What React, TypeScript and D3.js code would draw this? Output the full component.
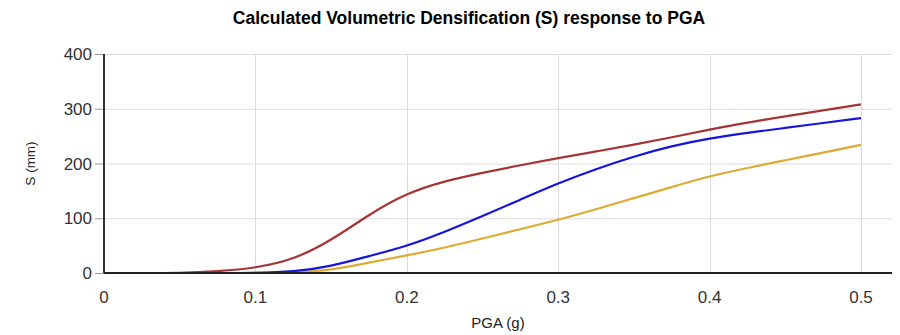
import { useEffect, useRef } from 'react'
import * as d3 from 'd3'

const pga = [0, 0.025, 0.05, 0.075, 0.1, 0.125, 0.15, 0.175, 0.2, 0.225, 0.25, 0.275, 0.3, 0.325, 0.35, 0.375, 0.4, 0.425, 0.45, 0.475, 0.5]
const redS = [0, 0, 0, 3, 9, 24, 59, 107, 146, 168, 183, 197, 210, 222, 234, 248, 262, 275, 286, 297, 308]
const blueS = [0, 0, 0, 0, 0, 2, 12, 31, 49, 75, 104, 134, 164, 190, 213, 232, 246, 256, 265, 274, 283]
const yellowS = [0, 0, 0, 0, 0, 1, 5, 19, 32, 46, 63, 80, 97, 116, 137, 157, 177, 192, 206, 220, 234]
const xTicks = [0, 0.1, 0.2, 0.3, 0.4, 0.5]
const yTicks = [0, 100, 200, 300, 400]

const series = [
  { name: 'yellow', color: '#dcab33', values: yellowS },
  { name: 'blue', color: '#1515e0', values: blueS },
  { name: 'red', color: '#a53434', values: redS },
]

const App = () => {
  const ref = useRef<SVGSVGElement>(null)

  useEffect(() => {
    const svg = d3.select(ref.current)
    svg.selectAll('*').remove()
    const width = 900
    const height = 335
    const margin = { top: 54, right: 8, bottom: 62, left: 104 }
    const font = 'Liberation Sans, Arial, sans-serif'

    const x = d3.scaleLinear().domain([0, 0.5]).range([104, 861])
    const y = d3.scaleLinear().domain([0, 400]).range([height - margin.bottom, margin.top])

    // title
    svg
      .append('text')
      .attr('x', 469)
      .attr('y', 24)
      .attr('text-anchor', 'middle')
      .attr('font-family', font)
      .attr('font-size', 17.5)
      .attr('font-weight', 'bold')
      .text('Calculated Volumetric Densification (S) response to PGA')

    // grid
    const grid = svg.append('g').attr('stroke', '#dcdcdc').attr('stroke-width', 1)
    grid
      .selectAll('.hg')
      .data(yTicks.filter((d) => d > 0))
      .join('line')
      .attr('x1', margin.left)
      .attr('x2', width - margin.right)
      .attr('y1', (d) => y(d) + 0.5)
      .attr('y2', (d) => y(d) + 0.5)
    grid
      .selectAll('.vg')
      .data(xTicks.filter((d) => d > 0))
      .join('line')
      .attr('x1', (d) => Math.round(x(d)) + 0.5)
      .attr('x2', (d) => Math.round(x(d)) + 0.5)
      .attr('y1', y(400))
      .attr('y2', y(0))

    // y ticks + labels
    const yAxis = svg.append('g')
    yAxis
      .selectAll('line')
      .data(yTicks)
      .join('line')
      .attr('x1', margin.left - 9)
      .attr('x2', margin.left)
      .attr('y1', (d) => y(d) + 0.5)
      .attr('y2', (d) => y(d) + 0.5)
      .attr('stroke', '#999')
    yAxis
      .selectAll('text')
      .data(yTicks)
      .join('text')
      .attr('x', margin.left - 12)
      .attr('y', (d) => y(d) + 6)
      .attr('text-anchor', 'end')
      .attr('font-family', font)
      .attr('font-size', 17)
      .attr('fill', '#333')
      .text((d) => d)

    // x labels
    svg
      .append('g')
      .selectAll('text')
      .data(xTicks)
      .join('text')
      .attr('x', (d) => x(d))
      .attr('y', y(0) + 30)
      .attr('text-anchor', 'middle')
      .attr('font-family', font)
      .attr('font-size', 17)
      .attr('fill', '#333')
      .text((d) => String(d))

    // axis titles
    svg
      .append('text')
      .attr('x', 498)
      .attr('y', 328)
      .attr('text-anchor', 'middle')
      .attr('font-family', font)
      .attr('font-size', 15)
      .attr('fill', '#222')
      .text('PGA (g)')
    svg
      .append('text')
      .attr('transform', `translate(35,${y(200)}) rotate(-90)`)
      .attr('text-anchor', 'middle')
      .attr('font-family', font)
      .attr('font-size', 13.5)
      .attr('fill', '#222')
      .text('S (mm)')

    // lines
    const line = d3
      .line<number>()
      .x((_, i) => x(pga[i]))
      .y((d) => y(d))
      .curve(d3.curveBasis)
    svg
      .append('g')
      .selectAll('path')
      .data(series)
      .join('path')
      .attr('d', (s) => line(s.values))
      .attr('fill', 'none')
      .attr('stroke', (s) => s.color)
      .attr('stroke-width', 2.2)

    // axis lines
    svg
      .append('line')
      .attr('x1', margin.left)
      .attr('x2', width - margin.right)
      .attr('y1', y(0))
      .attr('y2', y(0))
      .attr('stroke', '#222')
      .attr('stroke-width', 2)
    svg
      .append('line')
      .attr('x1', margin.left)
      .attr('x2', margin.left)
      .attr('y1', y(400))
      .attr('y2', y(0))
      .attr('stroke', '#333')
      .attr('stroke-width', 2)
  }, [])

  return (
    <svg
      ref={ref}
      width={900}
      height={335}
      style={{ position: 'absolute', left: 0, top: 0, background: '#fff' }}
    />
  )
}

export default App
